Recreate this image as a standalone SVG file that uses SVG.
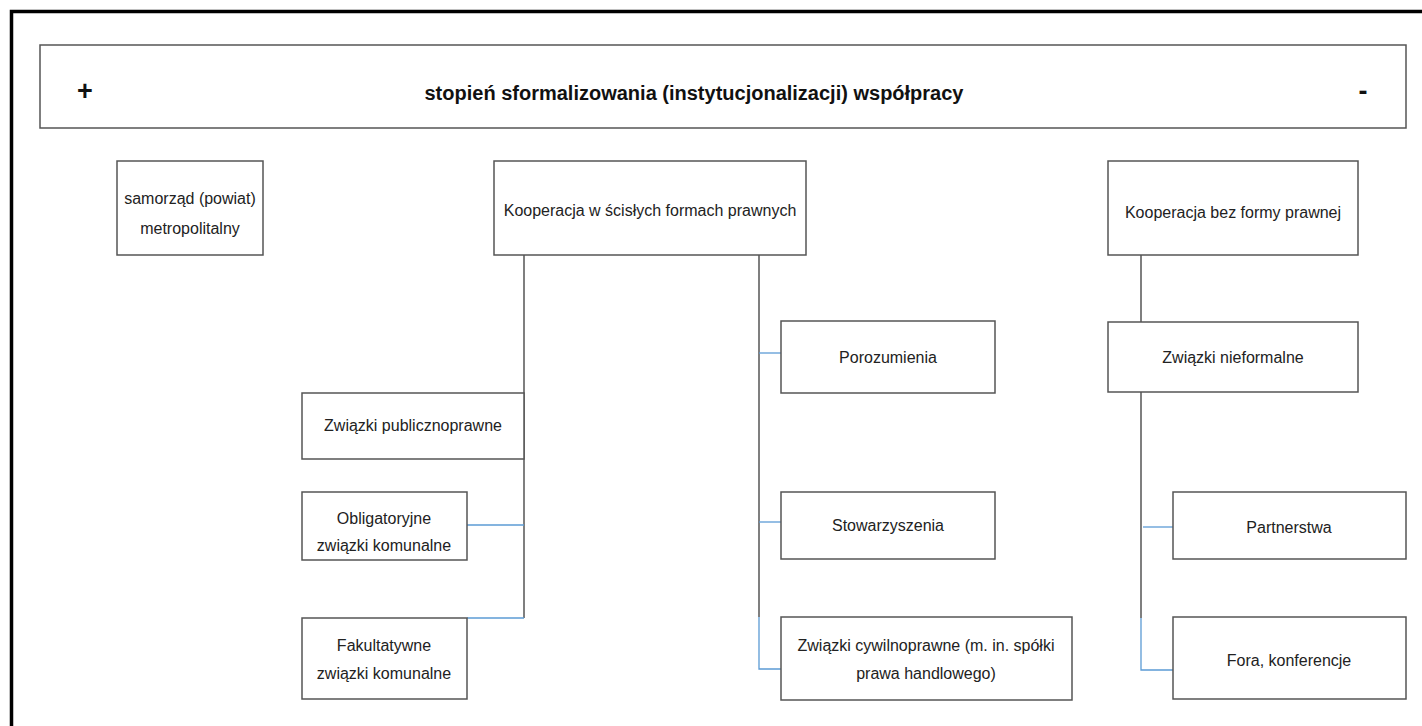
<svg xmlns="http://www.w3.org/2000/svg" width="1422" height="726" viewBox="0 0 1422 726">
<style>
.box{fill:#fff;stroke:#555;stroke-width:1.5}
.t{font-family:"Liberation Sans",Arial,sans-serif;font-size:16px;fill:#222;text-anchor:middle}
.h{font-family:"Liberation Sans",Arial,sans-serif;font-size:20px;font-weight:bold;fill:#111;text-anchor:middle}
.s{font-family:"Liberation Sans",Arial,sans-serif;font-size:27px;font-weight:bold;fill:#111;text-anchor:middle}
.g{fill:none;stroke:#555;stroke-width:1.5}
.b{fill:none;stroke:#5b9bd5;stroke-width:1.3}
</style>
<rect width="1422" height="726" fill="#fff"/>
<path d="M11.5 726 V11.5 H1422" fill="none" stroke="#000" stroke-width="3.5"/>
<g id="header">
<rect class="box" x="40" y="45" width="1366" height="83"/>
<text class="s" x="85" y="100">+</text>
<text class="h" x="694" y="100">stopień sformalizowania (instytucjonalizacji) współpracy</text>
<text class="s" x="1363" y="100">-</text>
</g>
<g id="connectors">
<path class="g" d="M524 255 V618"/>
<path class="g" d="M759 255 V617"/>
<path class="b" d="M759 617 V669 H788"/>
<path class="b" d="M759 353 H788"/>
<path class="b" d="M759 522 H788"/>
<path class="b" d="M467 525 H524"/>
<path class="b" d="M467 618 H524"/>
<path class="g" d="M1141 255 V322"/>
<path class="g" d="M1141 392 V618"/>
<path class="b" d="M1141 618 V670 H1173"/>
<path class="b" d="M1143 527 H1173"/>
</g>
<g id="samorzad">
<rect class="box" x="117" y="161" width="146" height="94"/>
<text class="t" x="190" y="204">samorząd (powiat)</text>
<text class="t" x="190" y="234">metropolitalny</text>
</g>
<g id="scisle">
<rect class="box" x="494" y="161" width="312" height="94"/>
<text class="t" x="650" y="216">Kooperacja w ścisłych formach prawnych</text>
</g>
<g id="bezformy">
<rect class="box" x="1108" y="161" width="250" height="94"/>
<text class="t" x="1233" y="218">Kooperacja bez formy prawnej</text>
</g>
<g id="porozumienia">
<rect class="box" x="781" y="321" width="214" height="72"/>
<text class="t" x="888" y="363">Porozumienia</text>
</g>
<g id="publiczno">
<rect class="box" x="302" y="393" width="222" height="66"/>
<text class="t" x="413" y="431">Związki publicznoprawne</text>
</g>
<g id="obligatoryjne">
<rect class="box" x="302" y="492" width="165" height="68"/>
<text class="t" x="384" y="524">Obligatoryjne</text>
<text class="t" x="384" y="551">związki komunalne</text>
</g>
<g id="fakultatywne">
<rect class="box" x="302" y="618" width="165" height="81"/>
<text class="t" x="384" y="651">Fakultatywne</text>
<text class="t" x="384" y="679">związki komunalne</text>
</g>
<g id="stowarzyszenia">
<rect class="box" x="781" y="492" width="214" height="67"/>
<text class="t" x="888" y="531">Stowarzyszenia</text>
</g>
<g id="cywilno">
<rect class="box" x="781" y="617" width="291" height="83"/>
<text class="t" x="926" y="651">Związki cywilnoprawne (m. in. spółki</text>
<text class="t" x="926" y="679">prawa handlowego)</text>
</g>
<g id="nieformalne">
<rect class="box" x="1108" y="322" width="250" height="70"/>
<text class="t" x="1233" y="363">Związki nieformalne</text>
</g>
<g id="partnerstwa">
<rect class="box" x="1173" y="492" width="233" height="67"/>
<text class="t" x="1289" y="533">Partnerstwa</text>
</g>
<g id="fora">
<rect class="box" x="1173" y="617" width="233" height="82"/>
<text class="t" x="1289" y="666">Fora, konferencje</text>
</g>
</svg>
